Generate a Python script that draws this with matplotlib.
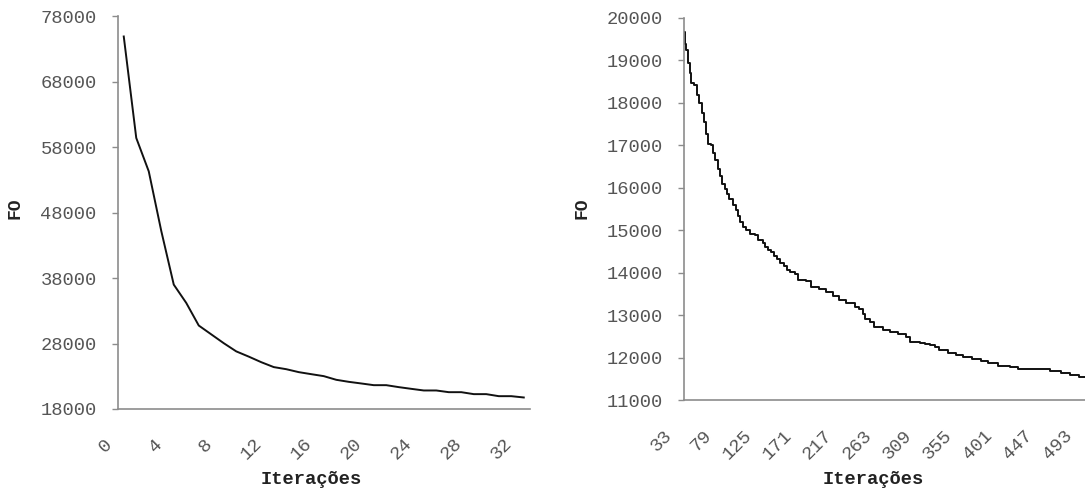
import matplotlib
matplotlib.use("Agg")
import matplotlib.pyplot as plt
from matplotlib.transforms import ScaledTranslation

# FO per iteration, first run (iterations 0..32)
iter_inicio = list(range(33))
fo_inicio = [74900, 59400, 54300, 45200, 37000, 34200, 30750, 29400, 28050, 26800,
             26000, 25150, 24400, 24080, 23630, 23320, 23020, 22460, 22150, 21900,
             21640, 21640, 21340, 21080, 20830, 20830, 20570, 20570, 20270, 20270,
             19960, 19960, 19760]

# FO from iteration 33 on, stored where the value changes
iter_passos = [33, 34, 36, 38, 40, 42, 45, 48, 51, 54, 56, 59, 61, 64, 67, 69,
               72, 75, 77, 80, 83, 85, 90, 93, 96, 98, 101, 105, 109, 115, 118,
               124, 127, 130, 134, 137, 140, 144, 148, 152, 155, 161, 164, 174,
               180, 189, 197, 205, 212, 220, 230, 235, 239, 242, 247, 252, 262,
               270, 279, 289, 293, 305, 310, 316, 322, 327, 337, 346, 354, 364,
               375, 383, 394, 408, 417, 454, 467, 477, 488]
fo_passos = [19666, 19380, 19235, 18921, 18686, 18451, 18412, 18176, 17980, 17760,
             17549, 17274, 17024, 17000, 16820, 16647, 16451, 16280, 16098, 15980,
             15850, 15745, 15588, 15471, 15330, 15196, 15078, 15000, 14921, 14882,
             14765, 14702, 14600, 14529, 14490, 14400, 14333, 14230, 14150, 14060,
             14020, 13965, 13839, 13808, 13667, 13620, 13549, 13447, 13368, 13290,
             13196, 13157, 13040, 12921, 12843, 12725, 12663, 12608, 12569, 12490,
             12372, 12357, 12318, 12294, 12255, 12192, 12114, 12075, 12020, 11980,
             11926, 11886, 11808, 11784, 11730, 11690, 11643, 11588, 11549]
iter_fim = 494

ticks_inicio = list(range(0, 33, 4))
ticks_passos = list(range(33, 494, 46))

MONO = "Liberation Mono"
CINZA_EIXO = "#8c8c8c"
CINZA_TEXTO = "#555555"

fig = plt.figure(figsize=(10.85, 4.92), dpi=100)
ax1 = fig.add_axes([0.1083, 0.1687, 0.3802, 0.7984])
ax2 = fig.add_axes([0.6301, 0.186, 0.3699, 0.7784])

ax1.plot(iter_inicio, fo_inicio, color="#111111", lw=1.4)
ax2.plot(iter_passos + [iter_fim], fo_passos + [fo_passos[-1]],
         color="#111111", lw=1.4, drawstyle="steps-post")

ax1.set_xlim(-0.5, 32.5)
ax1.set_ylim(18000, 78000)
ax1.set_yticks(range(18000, 78001, 10000))
ax1.set_xticks(ticks_inicio)

ax2.set_xlim(33, iter_fim + 0.5)
ax2.set_ylim(11000, 20000)
ax2.set_yticks(range(11000, 20001, 1000))
ax2.set_xticks(ticks_passos)

for ax in (ax1, ax2):
    for lado in ("top", "right"):
        ax.spines[lado].set_visible(False)
    for lado in ("left", "bottom"):
        ax.spines[lado].set_color(CINZA_EIXO)
        ax.spines[lado].set_linewidth(1.2)
    ax.tick_params(axis="y", length=4, width=1.0, color=CINZA_EIXO, pad=11,
                   labelsize=13.5, labelcolor=CINZA_TEXTO)
    ax.tick_params(axis="x", length=0, pad=19, labelsize=13.5, labelcolor=CINZA_TEXTO)
    for lbl in ax.get_yticklabels() + ax.get_xticklabels():
        lbl.set_fontfamily(MONO)
    # rotated category labels, shifted left of their tick
    for lbl in ax.get_xticklabels():
        lbl.set_rotation(45)
        lbl.set_ha("right")
        lbl.set_va("top")
        lbl.set_rotation_mode("anchor")
        lbl.set_transform(lbl.get_transform() + ScaledTranslation(-0.2, 0, fig.dpi_scale_trans))
    ax.set_ylabel("FO", fontfamily=MONO, fontweight="bold", fontsize=13, color="#222222")
    ax.set_xlabel("Iterações", fontfamily=MONO, fontweight="bold", fontsize=13.5, color="#222222")

ax1.yaxis.set_label_coords(-0.227, 0.51)
ax1.xaxis.set_label_coords(0.469, -0.158)
ax2.yaxis.set_label_coords(-0.233, 0.503)
ax2.xaxis.set_label_coords(0.473, -0.185)

fig.savefig("out.png", dpi=100)
